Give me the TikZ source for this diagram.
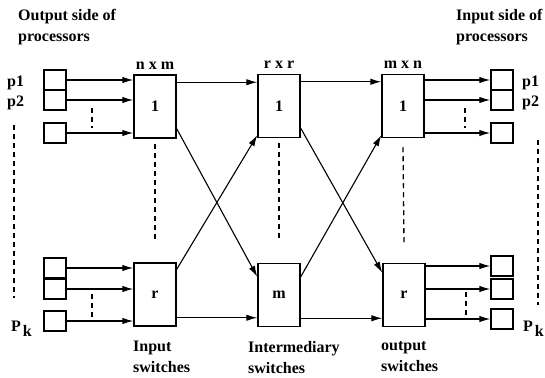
\documentclass[tikz,border=0pt]{standalone}
\usepackage{fontspec}
\setmainfont{Liberation Serif}
\usetikzlibrary{arrows.meta, calc, positioning}

\tikzset{
    proc/.style={draw, line width=1.5pt, minimum width=22pt, minimum height=20pt, inner sep=0pt},
    switchbox/.style={draw, line width=1.5pt, minimum width=42pt, minimum height=63pt, inner sep=0pt,
        font=\fontsize{16}{18}\selectfont\bfseries},
    link/.style={line width=1.1pt, -{Latex[length=11pt, width=6.5pt]}},
    gap/.style={line width=1.3pt, dash pattern=on 5pt off 4pt},
    lbl/.style={font=\fontsize{16}{21}\selectfont\bfseries, align=left, inner sep=0pt},
}

\begin{document}
\begin{tikzpicture}[x=1pt, y=-1pt]
    \useasboundingbox (0,0) rectangle (545,377);

    % processors, output side
    \begin{scope}
        \node[lbl, anchor=north west] (outside) at (18,9) {Output side of\\processors};
        \node[proc] (a1) at (55,80) {};
        \node[proc] (a2) at (55,100) {};
        \node[proc] (a3) at (55,133) {};
        \node[proc] (a4) at (55,268) {};
        \node[proc] (a5) at (55,289) {};
        \node[proc] (a6) at (55,321) {};
        \node[lbl, anchor=west] (pa1) at (7,83) {p1};
        \node[lbl, anchor=west] (pa2) at (7,103) {p2};
        \node[lbl, anchor=west] (pak) at (11,329) {P\kern2pt\raisebox{-5pt}{k}};
        \draw[gap] (14,125) -- (14,298);
        \draw[gap] (92,108) -- (92,128);
        \draw[gap] (92,294) -- (92,317);
    \end{scope}

    % input switches  n x m
    \begin{scope}
        \node[switchbox] (s1) at (155,106.5) {1};
        \node[switchbox] (sr) at (155,294.5) {r};
        \node[lbl, anchor=south] (nxm) at (s1.north) [yshift=5pt] {n x m};
        \node[lbl, anchor=north west] (intxt) at (133,341) {Input\\switches};
        \draw[gap] ([yshift=-5pt]s1.south) -- ([yshift=22pt]sr.north);
        \foreach \p in {a1,a2,a3,a4,a5,a6} {
            \coordinate (h\p) at (\p.east -| s1.west);
        }
        \draw[link] (a1.east) -- (ha1);
        \draw[link] (a2.east) -- (ha2);
        \draw[link] (a3.east) -- (ha3);
        \draw[link] (a4.east) -- (ha4);
        \draw[link] (a5.east) -- (ha5);
        \draw[link] (a6.east) -- (ha6);
    \end{scope}

    % intermediary switches  r x r
    \begin{scope}
        \node[switchbox] (m1) at (279,106) {1};
        \node[switchbox] (mm) at (279,295) {m};
        \node[lbl, anchor=south] (rxr) at (m1.north) [yshift=5pt] {r x r};
        \node[lbl, anchor=north west] (midtxt) at (248,341) {Intermediary\\switches};
        \draw[gap] ([yshift=-5pt]m1.south) -- ([yshift=22pt]mm.north);
        \coordinate (s1top) at ([yshift=-8pt]s1.north east);
        \coordinate (srbot) at ([yshift=9pt]sr.south east);
        \draw[link] (s1top) -- (s1top -| m1.west);
        \draw[link] (srbot) -- (srbot -| mm.west);
        \draw[link] ([yshift=10pt]s1.south east) -- ([yshift=-14pt]mm.north west);
        \draw[link] ([yshift=-7pt]sr.north east) -- ([yshift=3pt]m1.south west);
    \end{scope}

    % output switches  m x n
    \begin{scope}
        \node[switchbox] (o1) at (403,106) {1};
        \node[switchbox] (or) at (404,295) {r};
        \node[lbl, anchor=south] (mxn) at (o1.north) [yshift=5pt] {m x n};
        \node[lbl, anchor=north west] (outtxt) at (381,341) {output\\switches};
        \draw[gap] ([yshift=-9pt]o1.south) -- ([yshift=19pt]or.north);
        \coordinate (m1top) at ([yshift=-8pt]m1.north east);
        \coordinate (mmbot) at ([yshift=9pt]mm.south east);
        \draw[link] (m1top) -- (m1top -| o1.west);
        \draw[link] (mmbot) -- (mmbot -| or.west);
        \draw[link] ([yshift=10pt]m1.south east) -- ([yshift=-10pt]or.north west);
        \draw[link] ([yshift=-14pt]mm.north east) -- ([yshift=3pt]o1.south west);
    \end{scope}

    % processors, input side
    \begin{scope}
        \node[lbl, anchor=north west] (inside) at (456,9) {Input side of\\processors};
        \node[proc] (b1) at (502,80) {};
        \node[proc] (b2) at (502,100) {};
        \node[proc] (b3) at (502,133) {};
        \node[proc] (b4) at (502,266) {};
        \node[proc] (b5) at (502,289) {};
        \node[proc] (b6) at (502,319) {};
        \node[lbl, anchor=west] (pb1) at (522,83) {p1};
        \node[lbl, anchor=west] (pb2) at (522,103) {p2};
        \node[lbl, anchor=west] (pbk) at (523,329) {P\kern2pt\raisebox{-5pt}{k}};
        \draw[gap] (538,140) -- (538,305);
        \draw[gap] (465,108) -- (465,128);
        \draw[gap] (466,292) -- (466,315);
        \draw[link] (o1.east |- b1) -- (b1.west);
        \draw[link] (o1.east |- b2) -- (b2.west);
        \draw[link] (o1.east |- b3) -- (b3.west);
        \draw[link] (or.east |- b4) -- (b4.west);
        \draw[link] (or.east |- b5) -- (b5.west);
        \draw[link] (or.east |- b6) -- (b6.west);
    \end{scope}
\end{tikzpicture}
\end{document}
